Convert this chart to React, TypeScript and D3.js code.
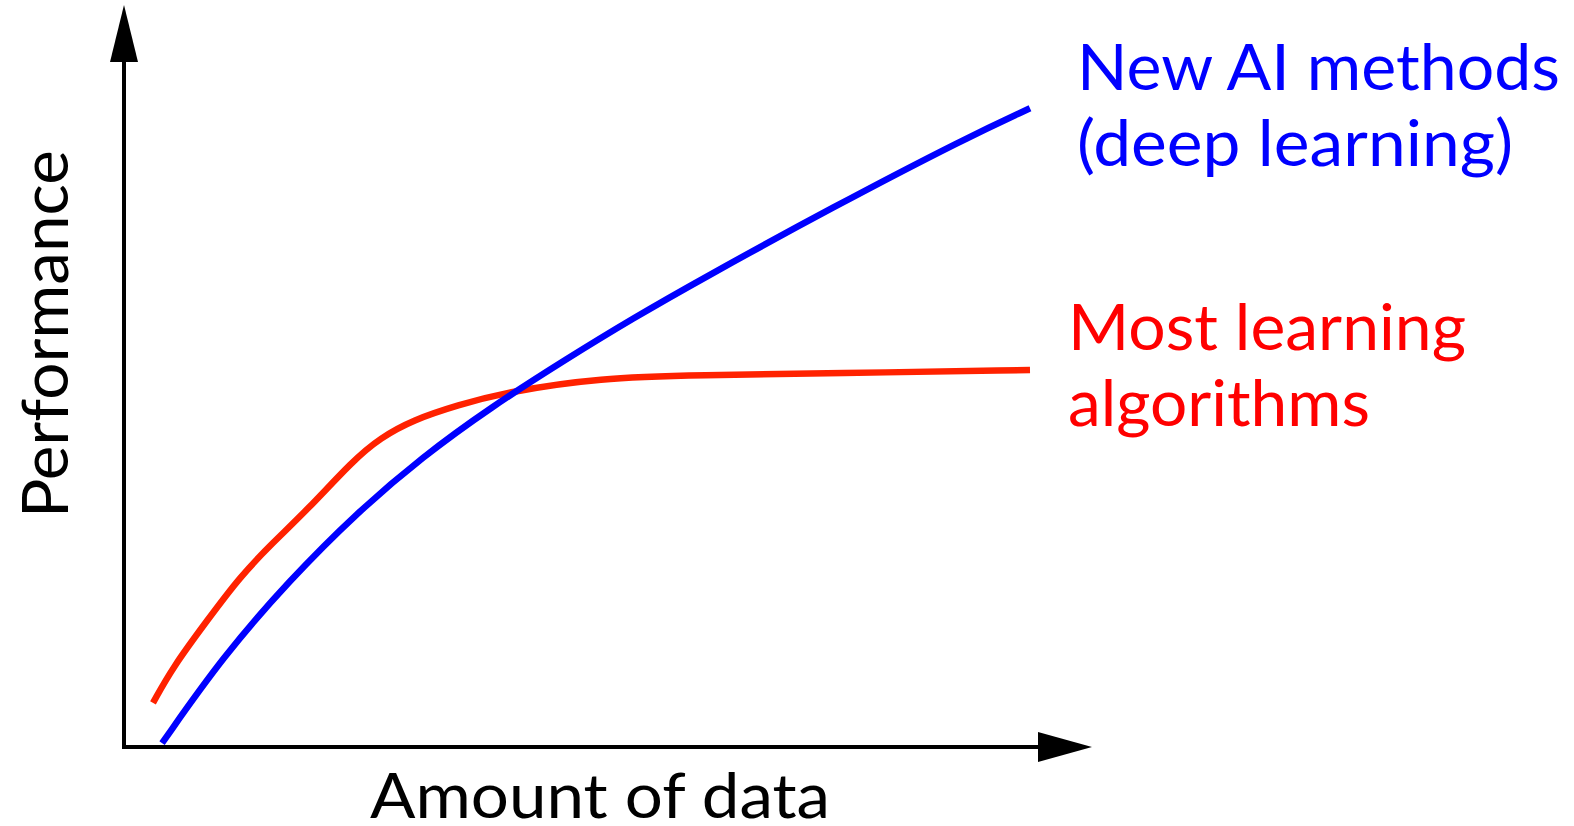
import * as d3 from 'd3';
import React, { useRef, useEffect } from 'react';

// amount of data (0-100) vs performance (0-100)
const deepX = [4.2, 10.9, 18.3, 25.7, 33.0, 40.4, 48.9, 56.2, 63.6, 78.3, 93.0, 100];
const deepY = [0.6, 14.1, 26.1, 36.6, 45.4, 53.0, 60.7, 67.0, 73.0, 84.4, 95.2, 99.8];

const classicX = [3.2, 5.4, 9.2, 12.8, 16.4, 20.2, 25.3, 28.3, 31.9, 36.8, 42.3, 52.5, 63.6, 78.3, 100];
const classicY = [6.9, 12.5, 19.8, 26.6, 31.9, 37.0, 44.8, 48.3, 51.1, 53.4, 55.5, 57.7, 58.1, 58.4, 58.9];

const deepLabel = ['New AI methods', '(deep learning)'];
const classicLabel = ['Most learning', 'algorithms'];
const xTitle = 'Amount of data';
const yTitle = 'Performance';

const W = 1574, H = 826;

function App() {
  const ref = useRef<SVGSVGElement>(null);

  useEffect(() => {
    const svg = d3.select(ref.current);
    svg.selectAll('*').remove();

    const font = "Lato, 'Open Sans', sans-serif";

    const x = d3.scaleLinear().domain([0, 100]).range([124, 1030]);
    const y = d3.scaleLinear().domain([0, 100]).range([747, 107]);

    const x0 = x(0), y0 = y(0);

    // axes as arrows
    svg.append('line')
      .attr('x1', x0).attr('y1', y0 + 2)
      .attr('x2', x0).attr('y2', 58)
      .attr('stroke', '#000').attr('stroke-width', 4);
    svg.append('path')
      .attr('d', `M${x0},5 L${x0 - 14},62 L${x0 + 14},62 Z`)
      .attr('fill', '#000');

    svg.append('line')
      .attr('x1', x0 - 2).attr('y1', y0)
      .attr('x2', 1042).attr('y2', y0)
      .attr('stroke', '#000').attr('stroke-width', 4);
    svg.append('path')
      .attr('d', `M1092,${y0} L1038,${y0 - 15} L1038,${y0 + 15} Z`)
      .attr('fill', '#000');

    const line = d3.line<[number, number]>()
      .x(d => x(d[0]))
      .y(d => y(d[1]))
      .curve(d3.curveBasis);

    const classic = classicX.map((v, i) => [v, classicY[i]] as [number, number]);
    const deep = deepX.map((v, i) => [v, deepY[i]] as [number, number]);

    svg.append('path')
      .attr('d', line(classic))
      .attr('fill', 'none')
      .attr('stroke', '#ff2200')
      .attr('stroke-width', 6.5);

    svg.append('path')
      .attr('d', line(deep))
      .attr('fill', 'none')
      .attr('stroke', '#0000ff')
      .attr('stroke-width', 6.5);

    // labels
    const label = (lines: string[], lx: number, ly: number[], widths: number[], color: string) => {
      lines.forEach((t, i) => {
        svg.append('text')
          .attr('x', lx).attr('y', ly[i])
          .attr('fill', color)
          .attr('font-family', font)
          .attr('font-size', 64)
          .attr('textLength', widths[i])
          .attr('lengthAdjust', 'spacingAndGlyphs')
          .text(t);
      });
    };
    label(deepLabel, 1077, [90, 166], [483, 436], '#0000ff');
    label(classicLabel, 1068, [350, 426], [398, 302], '#ff0000');

    svg.append('text')
      .attr('x', 370).attr('y', 818)
      .attr('font-family', font)
      .attr('font-size', 62)
      .attr('textLength', 460)
      .attr('lengthAdjust', 'spacingAndGlyphs')
      .text(xTitle);

    svg.append('text')
      .attr('transform', 'translate(68,518) rotate(-90)')
      .attr('font-family', font)
      .attr('font-size', 64)
      .attr('textLength', 368)
      .attr('lengthAdjust', 'spacingAndGlyphs')
      .text(yTitle);
  }, []);

  return (
    <svg ref={ref} width={W} height={H}
      style={{ position: 'absolute', left: 0, top: 0, background: '#fff' }} />
  );
}

export default App;
